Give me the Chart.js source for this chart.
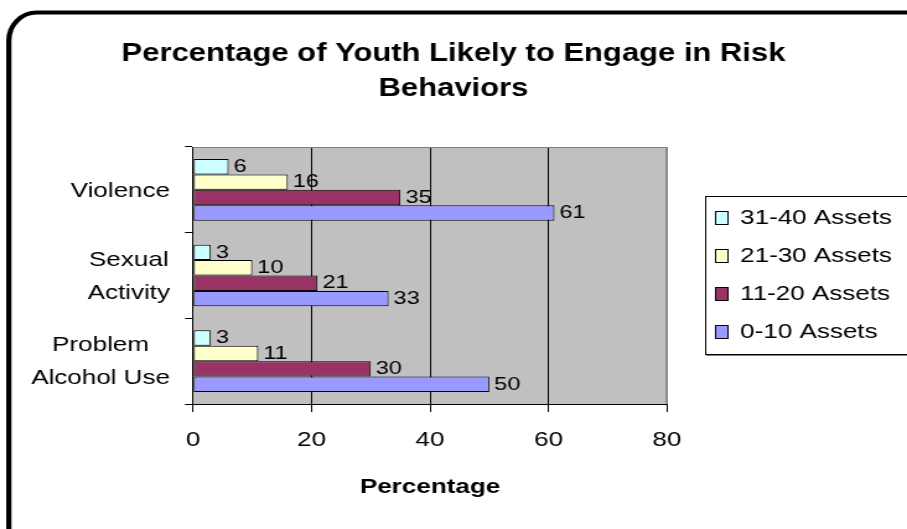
<!DOCTYPE html>
<html>
<head>
<meta charset="utf-8">
<title>Percentage of Youth Likely to Engage in Risk Behaviors</title>
<script src="https://cdn.jsdelivr.net/npm/chart.js@4/dist/chart.umd.min.js"></script>
<style>
    html, body { margin: 0; padding: 0; background: #fff; }
    #wrap { width: 907px; height: 529px; overflow: hidden; }
    /* the chart is drawn narrow and widened, like the old Excel export */
    #chart { transform: scaleX(1.2391); transform-origin: 0 0; }
</style>
</head>
<body>
<div id="wrap"><canvas id="chart" width="732" height="529"></canvas></div>
<script>
var categories = [['Violence'], ['Sexual', 'Activity'], ['Problem', 'Alcohol Use']];
var seriesNames = ['31-40 Assets', '21-30 Assets', '11-20 Assets', '0-10 Assets'];
var assets31to40 = [6, 3, 3];
var assets21to30 = [16, 10, 11];
var assets11to20 = [35, 21, 30];
var assets0to10 = [61, 33, 50];
var xTicks = [0, 20, 40, 60, 80];
var titleLines = ['Percentage of Youth Likely to Engage in Risk', 'Behaviors'];
var xTitle = 'Percentage';

var palette = ['#CCFFFF', '#FFFFCC', '#993366', '#9999FF'];
var FONT = "'Liberation Sans', Arial, Helvetica, sans-serif";

(function() {
    var plotLeft = 155.8;
    var plotRight = 538.3;
    var plotTop = 147;
    var plotBottom = 404;

    Chart.defaults.font.family = FONT;
    Chart.defaults.color = '#000';

    var series = [assets31to40, assets21to30, assets11to20, assets0to10];

    var datasets = series.map(function(values, i) {
        return {
            label: seriesNames[i],
            data: values,
            backgroundColor: palette[i],
            borderColor: '#000',
            borderWidth: 1,
            borderSkipped: false,
            categoryPercentage: 0.72,
            barPercentage: 1.0
        };
    });

    function font(size, bold) {
        return (bold ? 'bold ' : '') + size + 'px ' + FONT;
    }

    var decorations = {
        id: 'decorations',
        beforeDraw: function(chart) {
            var ctx = chart.ctx, a = chart.chartArea;
            ctx.save();
            ctx.fillStyle = '#fff';
            ctx.fillRect(0, 0, chart.width, chart.height);
            ctx.fillStyle = '#C0C0C0';
            ctx.fillRect(a.left, a.top, a.right - a.left, a.bottom - a.top);
            ctx.restore();
        },
        afterDraw: function(chart) {
            var ctx = chart.ctx, a = chart.chartArea;
            var yScale = chart.scales.y;
            ctx.save();

            // plot area frame, top and right
            ctx.strokeStyle = '#808080';
            ctx.lineWidth = 1;
            ctx.beginPath();
            ctx.moveTo(a.left, a.top + 0.5);
            ctx.lineTo(a.right - 0.5, a.top + 0.5);
            ctx.lineTo(a.right - 0.5, a.bottom);
            ctx.stroke();

            // value labels at the end of each bar
            ctx.fillStyle = '#000';
            ctx.font = font(19);
            ctx.textAlign = 'left';
            ctx.textBaseline = 'middle';
            chart.data.datasets.forEach(function(ds, di) {
                chart.getDatasetMeta(di).data.forEach(function(bar, i) {
                    ctx.fillText(String(ds.data[i]), bar.x + 4, bar.y);
                });
            });

            // category labels, lines centred inside a right-aligned block
            ctx.font = font(21);
            ctx.textAlign = 'center';
            var labelRight = 137.2;
            categories.forEach(function(lines, i) {
                var cy = yScale.getPixelForValue(i) + 1;
                var maxW = 0;
                lines.forEach(function(t) { maxW = Math.max(maxW, ctx.measureText(t).width); });
                var cx = labelRight - maxW / 2;
                var lh = 33;
                var y0 = cy - (lines.length - 1) * lh / 2;
                lines.forEach(function(t, k) { ctx.fillText(t, cx, y0 + k * lh); });
            });

            // title
            ctx.font = font(25, true);
            ctx.textAlign = 'center';
            titleLines.forEach(function(t, k) {
                ctx.fillText(t, chart.width / 2, 54 + k * 35.5);
            });

            // legend box
            var lgLeft = 569, lgTop = 196, lgBottom = 354;
            ctx.strokeStyle = '#808080';
            ctx.beginPath();
            ctx.moveTo(lgLeft + 1, lgBottom + 1.5);
            ctx.lineTo(chart.width + 10, lgBottom + 1.5);
            ctx.stroke();
            ctx.strokeStyle = '#000';
            ctx.strokeRect(lgLeft + 0.5, lgTop + 0.5, chart.width, lgBottom - lgTop);
            ctx.font = font(21);
            ctx.textAlign = 'left';
            chart.data.datasets.forEach(function(ds, i) {
                var y = 218 + i * 38;
                ctx.fillStyle = ds.backgroundColor;
                ctx.fillRect(577, y - 7, 10.5, 14);
                ctx.strokeRect(577.5, y - 6.5, 10, 13);
                ctx.fillStyle = '#000';
                ctx.fillText(ds.label, 597.3, y);
            });

            // rounded outer frame
            ctx.lineWidth = 4.2;
            ctx.beginPath();
            ctx.moveTo(7.1, chart.height + 20);
            ctx.lineTo(7.1, 12.5 + 28);
            ctx.ellipse(7.1 + 22.6, 12.5 + 28, 22.6, 28, 0, Math.PI, 1.5 * Math.PI);
            ctx.lineTo(chart.width + 20, 12.5);
            ctx.stroke();

            ctx.restore();
        }
    };

    new Chart(document.getElementById('chart'), {
        type: 'bar',
        data: {
            labels: categories,
            datasets: datasets
        },
        options: {
            indexAxis: 'y',
            responsive: false,
            animation: false,
            devicePixelRatio: 1,
            layout: { padding: { top: plotTop, right: 732 - plotRight, bottom: 0, left: 0 } },
            plugins: {
                legend: { display: false },
                tooltip: { enabled: false },
                title: { display: false }
            },
            scales: {
                x: {
                    min: 0,
                    max: 80,
                    afterBuildTicks: function(s) {
                        s.ticks = xTicks.map(function(v) { return { value: v }; });
                    },
                    afterFit: function(s) { s.height = 529 - plotBottom; },
                    ticks: { padding: 16, color: '#000', font: { size: 21 } },
                    grid: {
                        color: function(c) { return c.tick && c.tick.value === 80 ? '#808080' : '#000'; },
                        tickColor: '#000',
                        tickLength: 8,
                        lineWidth: 1
                    },
                    border: { display: true, color: '#000', width: 1 },
                    title: {
                        display: true,
                        text: xTitle,
                        color: '#000',
                        font: { size: 21, weight: 'bold' },
                        padding: { top: 0, bottom: 29.4 }
                    }
                },
                y: {
                    type: 'category',
                    afterFit: function(s) { s.width = plotLeft; },
                    ticks: { display: false },
                    grid: {
                        offset: true,
                        drawOnChartArea: false,
                        drawTicks: true,
                        tickLength: 6.5,
                        color: '#000'
                    },
                    border: { display: true, color: '#000', width: 1 }
                }
            }
        },
        plugins: [decorations]
    });
})();
</script>
</body>
</html>
